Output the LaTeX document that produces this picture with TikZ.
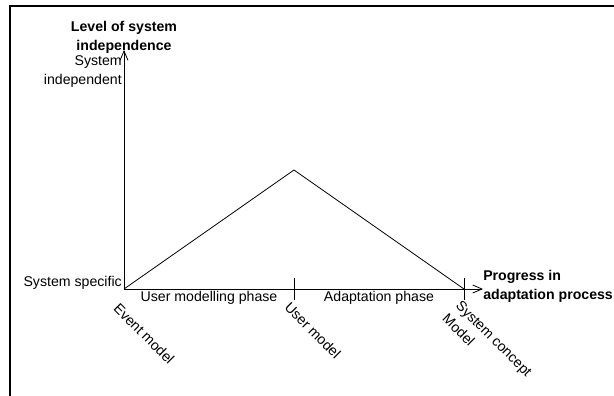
\documentclass[tikz,border=0pt]{standalone}
\usepackage{fontspec}
\setmainfont{Liberation Sans}
\usetikzlibrary{positioning, arrows.meta}

\begin{document}
\begin{tikzpicture}[
    x=0.75pt, y=-0.75pt,
    font=\fontsize{10.6}{14.2}\selectfont,
    axis/.style={-{Straight Barb[length=7pt,width=6pt]}, line width=0.6pt},
    curve/.style={line width=0.6pt},
    tick/.style={line width=0.6pt},
    frame/.style={line width=1.2pt},
    title/.style={font=\fontsize{10.6}{14.2}\selectfont\bfseries, inner sep=0pt},
    label/.style={inner sep=0pt},
    rotlabel/.style={inner sep=0pt, rotate=-45, anchor=north west, align=left}
]
\useasboundingbox (0,0) rectangle (614,396);

% frame
\draw[frame] (10,396) -- (10,6) -- (614,6);

% axes
\coordinate (origin) at (124,289);
\coordinate (ytop) at (124,50);
\coordinate (xend) at (483,289);
\coordinate (usermodel) at (294,289);
\coordinate (sysconcept) at (464,289);
\coordinate (peak) at (294,170);

\draw[axis] (origin) -- (ytop);
\draw[axis] (origin) -- (xend);

% ticks
\draw[tick] ([yshift=-8]usermodel) -- ([yshift=8]usermodel);
\draw[tick] ([yshift=-8]sysconcept) -- ([yshift=8]sysconcept);

% adaptation curve
\draw[curve] (origin) -- (peak) -- (sysconcept);

% axis titles
\node[title, align=center, anchor=south] (ytitle) at ([yshift=-3]ytop) {Level of system\\independence};
\node[title, align=left, anchor=west] (xtitle) at ([xshift=0,yshift=2]xend) {Progress in\\adaptation process};

% y levels
\node[label, align=right, anchor=north east] (indep) at (122,55) {System\\independent};
\node[label, anchor=east] (specific) at (122,283) {System specific};

% phases
\node[label] (phase1) at (209,298) {User modelling phase};
\node[label] (phase2) at (379,298) {Adaptation phase};

% milestones
\node[rotlabel] (eventm) at (120,302) {Event model};
\node[rotlabel] (userm) at (291,301) {User model};
\node[rotlabel] (sysm) at (462,299) {System concept\\Model};

\end{tikzpicture}
\end{document}
